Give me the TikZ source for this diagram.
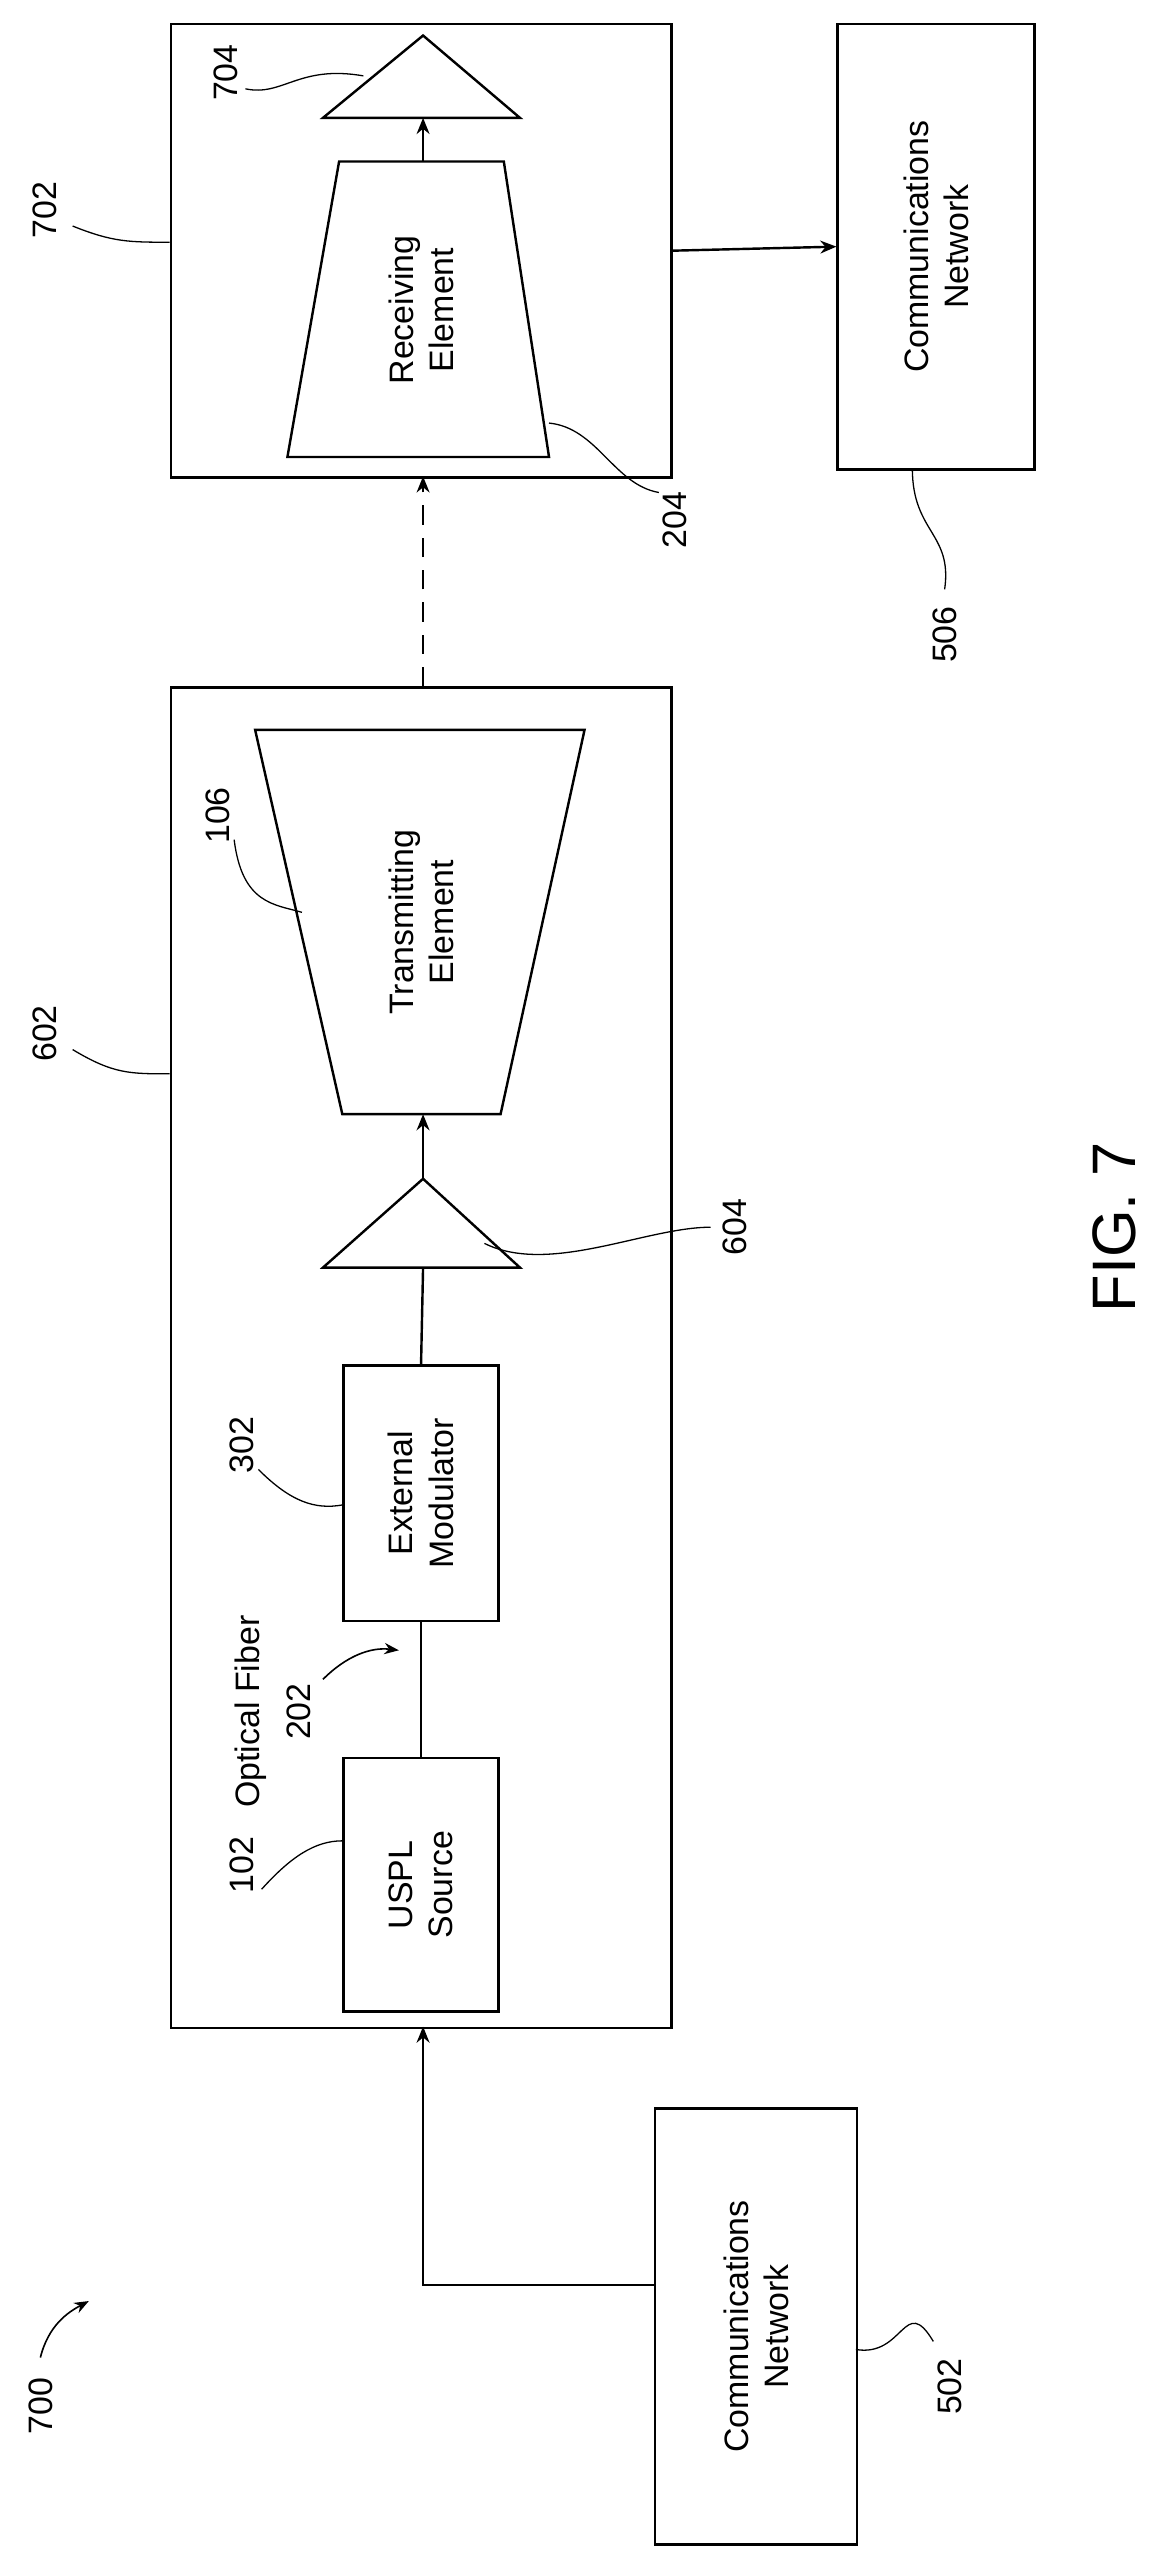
\documentclass[tikz,border=0pt]{standalone}
\usepackage{fontspec}
\setmainfont{Liberation Sans}
\usetikzlibrary{arrows.meta}
\begin{document}
\begin{tikzpicture}[x=1pt,y=-1pt,
  bx/.style={draw,line width=1.5pt},
  ln/.style={line width=1.5pt},
  ar/.style={line width=1.5pt,-{Stealth[length=10pt,width=8pt]}},
  ld/.style={line width=0.8pt},
  tx/.style={rotate=90,font=\fontsize{21}{25}\selectfont,align=center},
  lb/.style={rotate=90,font=\fontsize{21}{25}\selectfont}]
\useasboundingbox[fill=white] (0,0) rectangle (727,1586);
% box 702
\node[bx,minimum width=310pt,minimum height=281pt,anchor=north west,inner sep=0] (b702) at (105,14) {};
\draw[ln] (200,73) -- (262,22) -- (322,73) -- cycle;
\coordinate (t704) at (262,73);
\draw[ln] (210,100) -- (312,100) -- (340,283) -- (178,283) -- cycle;
\node[tx] (re) at (261,192) {Receiving\\Element};
\draw[ar] (262,100) -- (t704);
% 506
\node[bx,minimum width=122pt,minimum height=276pt,anchor=north west,inner sep=0] (b506) at (518,14) {};
\node[tx] at (b506) {Communications\\Network};
\draw[ar] (b702.east) -- (b506.west);
% box 602
\node[bx,minimum width=310pt,minimum height=830pt,anchor=north west,inner sep=0] (b602) at (105,425) {};
\draw[dashed,dash pattern=on 12pt off 8pt,ar] (262,425) -- (262,295);
\draw[ln] (158,452) -- (362,452) -- (310,690) -- (212,690) -- cycle;
\node[tx] at (261,571) {Transmitting\\Element};
\draw[ln] (200,785) -- (262,730) -- (322,785) -- cycle;
\draw[ar] (262,730) -- (262,690);
\node[bx,minimum width=96pt,minimum height=158pt,anchor=north west,inner sep=0] (em) at (212,845) {};
\node[tx] at (em) {External\\Modulator};
\draw[ln] (em.north) -- (262,785);
\node[bx,minimum width=96pt,minimum height=157pt,anchor=north west,inner sep=0] (us) at (212,1088) {};
\node[tx] at (us) {USPL\\Source};
\draw[ln] (us.north) -- (em.south);
% 502
\node[bx,minimum width=125pt,minimum height=270pt,anchor=north west,inner sep=0] (b502) at (405,1305) {};
\node[tx] at (b502) {Communications\\Network};
\coordinate (c1) at (262,1415);
\draw[ar] (b502.west |- c1) -- (c1) -- (262,1255);
% labels
\node[lb] at (28,130) {702};
\draw[ld] (45,140) .. controls (70,150) and (80,150) .. (105,150);
\node[lb] at (140,45) {704};
\draw[ld] (152,55) .. controls (175,60) and (185,40) .. (225,47);
\node[lb] at (418,322) {204};
\draw[ld] (340,262) .. controls (370,265) and (380,300) .. (408,305);
\node[lb] at (585,393) {506};
\draw[ld] (565,290) .. controls (565,330) and (590,330) .. (585,365);
\node[lb] at (135,505) {106};
\draw[ld] (145,520) .. controls (150,560) and (170,560) .. (187,565);
\node[lb] at (28,640) {602};
\draw[ld] (45,650) .. controls (70,665) and (80,665) .. (105,665);
\node[lb] at (455,760) {604};
\draw[ld] (300,770) .. controls (340,790) and (400,760) .. (440,760);
\node[lb] at (150,895) {302};
\draw[ld] (160,910) .. controls (180,930) and (195,935) .. (212,932);
\node[lb] at (150,1155) {102};
\draw[ld] (162,1170) .. controls (180,1150) and (195,1140) .. (212,1140);
\node[lb] at (155,1060) {Optical Fiber};
\node[lb] at (185,1060) {202};
\draw[line width=1pt,-{Stealth[length=9pt,width=7pt]}] (200,1040) .. controls (215,1025) and (230,1020) .. (247,1022);
\node[lb] at (588,1478) {502};
\draw[ld] (530,1455) .. controls (560,1460) and (560,1420) .. (578,1450);
\node[lb] at (25,1490) {700};
\draw[line width=1pt,-{Stealth[length=9pt,width=7pt]}] (25,1460) .. controls (30,1440) and (42,1432) .. (55,1425);
\node[rotate=90,font=\fontsize{38}{42}\selectfont] at (690,760) {FIG. 7};
\end{tikzpicture}
\end{document}
